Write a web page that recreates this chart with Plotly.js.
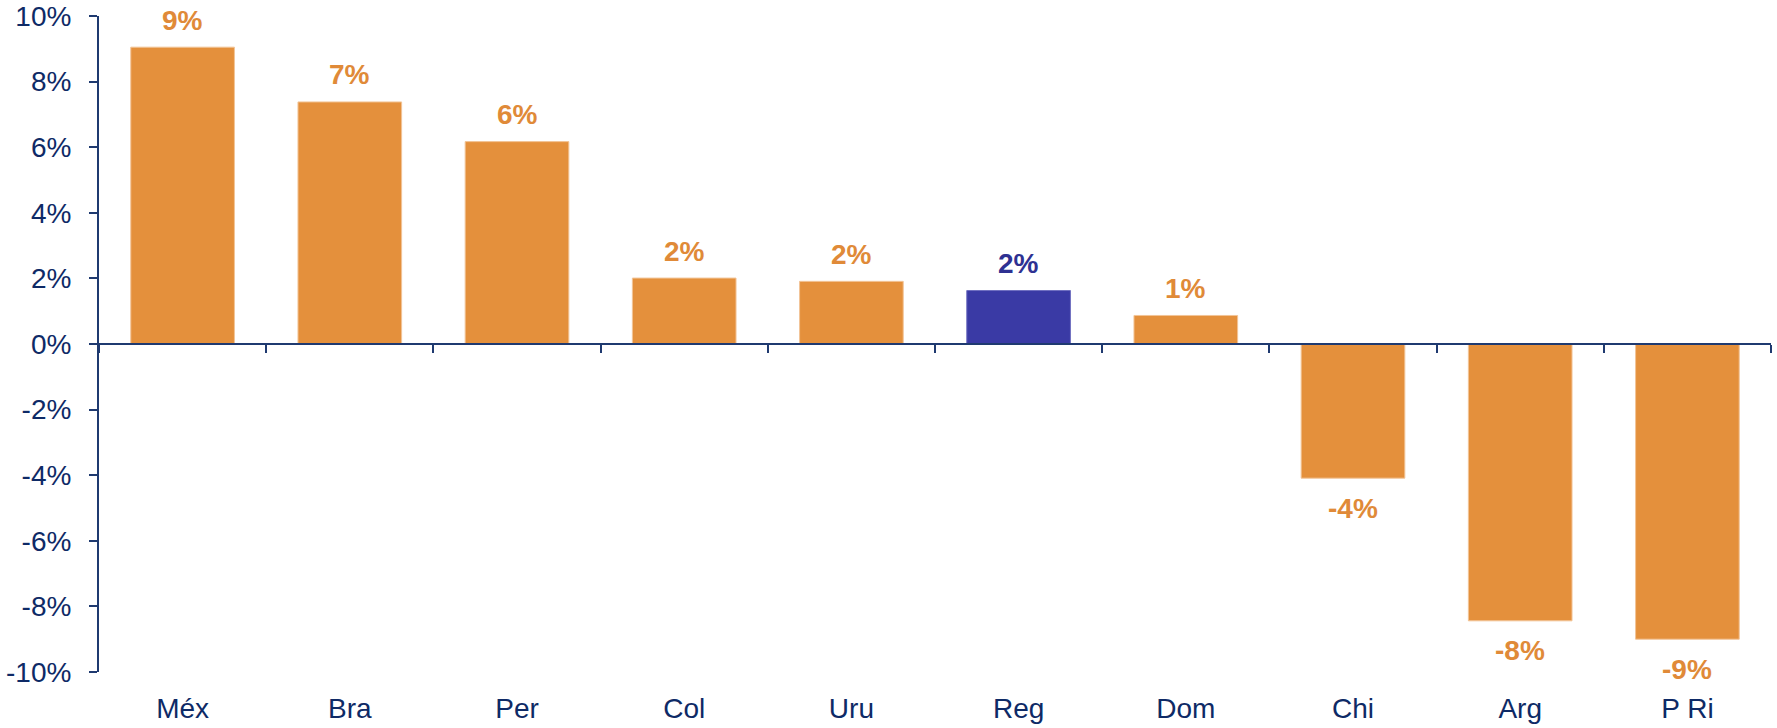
<!DOCTYPE html>
<html>
<head>
<meta charset="utf-8">
<script src="https://cdn.plot.ly/plotly-3.0.1.min.js"></script>
<style>
  html, body { margin: 0; padding: 0; background: #ffffff; }
  #chart { width: 1777px; height: 728px; }
</style>
</head>
<body>
<div id="chart"></div>
<script>
// ---- data ----
const categories = ["Méx", "Bra", "Per", "Col", "Uru", "Reg", "Dom", "Chi", "Arg", "P Ri"];
const growthValues = [9.05, 7.38, 6.17, 2.01, 1.91, 1.63, 0.87, -4.09, -8.44, -9.0];
const highlightCategory = "Reg";
const yTickValues = [-10, -8, -6, -4, -2, 0, 2, 4, 6, 8, 10];
const yTickLabels = yTickValues.map(v => String(v) + "%");

// ---- styles ----
const orange = "#E4903C";
const orangeText = "#E08A38";
const blue = "#3A3AA5";
const blueText = "#2E3192";
const navy = "#0E2A66";
const axisColor = "#1F3A70";
const fontFamily = "Liberation Sans, Arial, sans-serif";

const barColors = categories.map(c => c === highlightCategory ? blue : orange);
const lineColors = categories.map(c => c === highlightCategory ? "#6F6FC0" : "#F2C497");

const bars = {
  type: "bar",
  x: categories,
  y: growthValues,
  marker: { color: barColors, line: { color: lineColors, width: 1 } },
  hoverinfo: "x+y",
  showlegend: false
};

// invisible trace driving the zero-line axis with boundary ticks
const zeroAxisTrace = {
  type: "scatter",
  mode: "markers",
  x: categories,
  y: categories.map(() => 0),
  xaxis: "x2",
  yaxis: "y",
  marker: { opacity: 0 },
  hoverinfo: "skip",
  showlegend: false
};

const annotations = categories.map((c, i) => {
  const v = growthValues[i];
  return {
    x: c,
    y: v,
    xref: "x",
    yref: "y",
    text: String(Math.round(v)) + "%",
    showarrow: false,
    yshift: v >= 0 ? 27 : -30,
    font: {
      family: fontFamily,
      size: 28,
      color: c === highlightCategory ? blueText : orangeText,
      weight: "bold"
    }
  };
});

const layout = {
  width: 1777,
  height: 728,
  margin: { l: 99, r: 6, t: 16, b: 56 },
  paper_bgcolor: "#ffffff",
  plot_bgcolor: "#ffffff",
  bargap: 0.38,
  font: { family: fontFamily, color: navy },
  xaxis: {
    type: "category",
    categoryarray: categories,
    range: [-0.5, categories.length - 0.5],
    showline: false,
    showgrid: false,
    zeroline: false,
    ticks: "",
    ticklabelstandoff: 17,
    tickfont: { size: 28, color: navy, family: fontFamily },
    fixedrange: true
  },
  xaxis2: {
    type: "category",
    categoryarray: categories,
    range: [-0.5, categories.length - 0.5],
    overlaying: "x",
    anchor: "free",
    position: 0.5,
    side: "bottom",
    showline: true,
    linecolor: axisColor,
    linewidth: 2,
    showgrid: false,
    zeroline: false,
    ticks: "outside",
    tickson: "boundaries",
    ticklen: 8,
    tickwidth: 2,
    tickcolor: axisColor,
    showticklabels: false,
    fixedrange: true
  },
  yaxis: {
    range: [-10, 10],
    tickvals: yTickValues,
    ticktext: yTickLabels,
    showline: true,
    linecolor: axisColor,
    linewidth: 2,
    ticks: "outside",
    ticklen: 8,
    tickwidth: 2,
    tickcolor: axisColor,
    showgrid: false,
    zeroline: false,
    ticklabelstandoff: 12,
    tickfont: { size: 28, color: navy, family: fontFamily },
    fixedrange: true
  },
  annotations: annotations,
  showlegend: false
};

Plotly.newPlot("chart", [bars, zeroAxisTrace], layout, { displayModeBar: false, staticPlot: true });
</script>
</body>
</html>
